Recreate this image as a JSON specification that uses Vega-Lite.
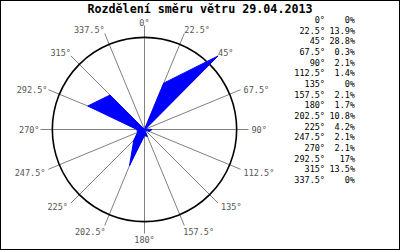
{
  "$schema": "https://vega.github.io/schema/vega-lite/v6.json",
  "width": 400,
  "height": 250,
  "padding": 0,
  "autosize": {"type": "none"},
  "background": "white",
  "config": {"view": {"stroke": "#000", "strokeWidth": 2}},
  "title": {"text": "Rozdělení směru větru 29.04.2013", "font": "DejaVu Sans Mono", "fontSize": 11.7, "fontWeight": "bold", "anchor": "middle", "baseline": "alphabetic", "offset": 0, "dy": 25, "color": "#000"},
  "datasets": {
    "dirs": [
      {"dir": 0, "pct": 0}, {"dir": 22.5, "pct": 13.9}, {"dir": 45, "pct": 28.8}, {"dir": 67.5, "pct": 0.3},
      {"dir": 90, "pct": 2.1}, {"dir": 112.5, "pct": 1.4}, {"dir": 135, "pct": 0}, {"dir": 157.5, "pct": 2.1},
      {"dir": 180, "pct": 1.7}, {"dir": 202.5, "pct": 10.8}, {"dir": 225, "pct": 4.2}, {"dir": 247.5, "pct": 2.1},
      {"dir": 270, "pct": 2.1}, {"dir": 292.5, "pct": 17}, {"dir": 315, "pct": 13.5}, {"dir": 337.5, "pct": 0}
    ]
  },
  "resolve": {"scale": {"x": "independent", "y": "independent"}},
  "layer": [
    {
      "data": {"name": "dirs"},
      "transform": [
        {"calculate": "28.8*sin(datum.dir*PI/180)", "as": "gx"},
        {"calculate": "28.8*cos(datum.dir*PI/180)", "as": "gy"},
        {"calculate": "datum.pct*sin(datum.dir*PI/180)", "as": "px"},
        {"calculate": "datum.pct*cos(datum.dir*PI/180)", "as": "py"},
        {"calculate": "toString(datum.dir) + '°'", "as": "lab"}
      ],
      "encoding": {
        "x": {"field": "gx", "type": "quantitative", "scale": {"domain": [-40.015, 70.754], "nice": false, "zero": false}, "axis": null},
        "y": {"field": "gy", "type": "quantitative", "scale": {"domain": [-33.369, 35.862], "nice": false, "zero": false}, "axis": null}
      },
      "layer": [
        {
          "mark": {"type": "rule", "color": "#808080", "strokeWidth": 1},
          "encoding": {"x2": {"datum": 0}, "y2": {"datum": 0}}
        },
        {
          "transform": [{"filter": "datum.dir == 0"}],
          "mark": {"type": "point", "shape": "circle", "filled": false, "stroke": "#000", "strokeWidth": 1.6, "size": 33979, "opacity": 1},
          "encoding": {"x": {"datum": 0, "type": "quantitative"}, "y": {"datum": 0, "type": "quantitative"}}
        },
        {
          "mark": {"type": "line", "fill": "#0000ff", "stroke": "#0000ff", "strokeWidth": 1, "interpolate": "linear-closed"},
          "encoding": {
            "x": {"field": "px", "type": "quantitative"},
            "y": {"field": "py", "type": "quantitative"},
            "order": {"field": "dir", "type": "quantitative"}
          }
        },
        {
          "transform": [{"filter": "datum.dir == 0"}],
          "mark": {"type": "text", "align": "center", "baseline": "alphabetic", "font": "DejaVu Sans Mono", "fontSize": 8.5, "color": "#555"},
          "encoding": {"text": {"field": "lab"}}
        },
        {
          "transform": [{"filter": "datum.dir == 22.5 || datum.dir == 45"}],
          "mark": {"type": "text", "align": "left", "baseline": "alphabetic", "font": "DejaVu Sans Mono", "fontSize": 8.5, "color": "#555"},
          "encoding": {"text": {"field": "lab"}}
        },
        {
          "transform": [{"filter": "datum.dir == 337.5 || datum.dir == 315"}],
          "mark": {"type": "text", "align": "right", "baseline": "alphabetic", "font": "DejaVu Sans Mono", "fontSize": 8.5, "color": "#555"},
          "encoding": {"text": {"field": "lab"}}
        },
        {
          "transform": [{"filter": "datum.dir == 67.5 || datum.dir == 90"}],
          "mark": {"type": "text", "align": "left", "baseline": "middle", "dx": 3, "font": "DejaVu Sans Mono", "fontSize": 8.5, "color": "#555"},
          "encoding": {"text": {"field": "lab"}}
        },
        {
          "transform": [{"filter": "datum.dir == 270 || datum.dir == 292.5"}],
          "mark": {"type": "text", "align": "right", "baseline": "middle", "dx": -1, "font": "DejaVu Sans Mono", "fontSize": 8.5, "color": "#555"},
          "encoding": {"text": {"field": "lab"}}
        },
        {
          "transform": [{"filter": "datum.dir == 112.5 || datum.dir == 135"}],
          "mark": {"type": "text", "align": "left", "baseline": "top", "dx": 3, "font": "DejaVu Sans Mono", "fontSize": 8.5, "color": "#555"},
          "encoding": {"text": {"field": "lab"}}
        },
        {
          "transform": [{"filter": "datum.dir == 225 || datum.dir == 247.5"}],
          "mark": {"type": "text", "align": "right", "baseline": "top", "dx": -3, "font": "DejaVu Sans Mono", "fontSize": 8.5, "color": "#555"},
          "encoding": {"text": {"field": "lab"}}
        },
        {
          "transform": [{"filter": "datum.dir == 157.5"}],
          "mark": {"type": "text", "align": "left", "baseline": "top", "dx": -1, "dy": 2, "font": "DejaVu Sans Mono", "fontSize": 8.5, "color": "#555"},
          "encoding": {"text": {"field": "lab"}}
        },
        {
          "transform": [{"filter": "datum.dir == 202.5"}],
          "mark": {"type": "text", "align": "right", "baseline": "top", "dx": 1, "dy": 2, "font": "DejaVu Sans Mono", "fontSize": 8.5, "color": "#555"},
          "encoding": {"text": {"field": "lab"}}
        },
        {
          "transform": [{"filter": "datum.dir == 180"}],
          "mark": {"type": "text", "align": "center", "baseline": "top", "dy": 2, "font": "DejaVu Sans Mono", "fontSize": 8.5, "color": "#555"},
          "encoding": {"text": {"field": "lab"}}
        }
      ]
    },
    {
      "data": {"name": "dirs"},
      "transform": [
        {"calculate": "toString(datum.dir) + '°'", "as": "dl"},
        {"calculate": "toString(datum.pct) + '%'", "as": "pl"},
        {"fold": ["dl", "pl"], "as": ["key", "txt"]}
      ],
      "mark": {"type": "text", "align": "right", "baseline": "middle", "font": "DejaVu Sans Mono", "fontSize": 8.5, "color": "#000"},
      "encoding": {
        "x": {"field": "key", "type": "nominal", "scale": {"type": "point", "domain": ["dl", "pl"], "range": [325, 355], "padding": 0}, "axis": null},
        "y": {"field": "dir", "type": "quantitative", "scale": {"domain": [-42.19, 485.16], "reverse": true, "nice": false, "zero": false}, "axis": null},
        "text": {"field": "txt"}
      }
    }
  ]
}
